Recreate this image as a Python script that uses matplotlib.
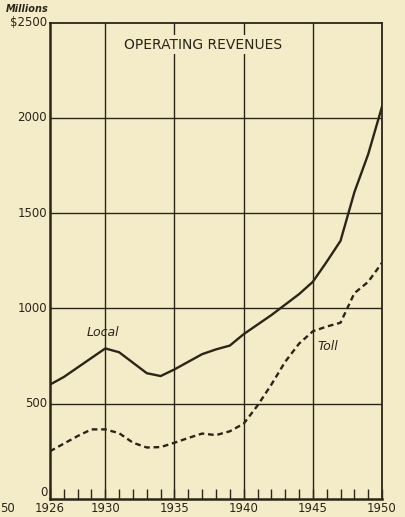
import matplotlib
matplotlib.use("Agg")
import matplotlib.pyplot as plt
from matplotlib.ticker import MultipleLocator

years = list(range(1926, 1951))
local = [600, 640, 690, 740, 790, 770, 715, 660, 645, 680, 720, 760, 785, 805,
         865, 915, 965, 1020, 1075, 1140, 1245, 1355, 1610, 1810, 2060]
toll = [250, 290, 330, 365, 365, 345, 295, 270, 272, 295, 320, 343, 335, 355,
        395, 490, 600, 720, 815, 880, 905, 925, 1080, 1140, 1240]
xticks = [1926, 1930, 1935, 1940, 1945, 1950]
yticks = [0, 500, 1000, 1500, 2000, 2500]
ylabels = ["0", "500", "1000", "1500", "2000", "$2500"]

bg = "#f4ecc9"
ink = "#2b2518"

fig = plt.figure(figsize=(4.06, 5.17), dpi=100, facecolor=bg)
ax = fig.add_axes([0.123, 0.035, 0.818, 0.921], facecolor=bg)

for y in [500, 1000, 1500, 2000]:
    ax.axhline(y, color=ink, lw=1.0, zorder=1)
for x in [1930, 1935, 1940, 1945]:
    ax.axvline(x, color=ink, lw=1.0, zorder=1)

ax.plot(years, local, color=ink, lw=1.7, zorder=3)
ax.plot(years, toll, color=ink, lw=1.7, ls=(0, (2.4, 1.6)), zorder=3)

ax.set_xlim(1926, 1950)
ax.set_ylim(0, 2500)
ax.set_xticks(xticks)
ax.set_xticklabels([str(v) for v in xticks])
ax.xaxis.set_minor_locator(MultipleLocator(1))
ax.tick_params(axis="x", which="both", direction="in", length=7.5, width=1.0,
               color=ink, labelcolor=ink, labelsize=8.5, pad=2)
ax.set_yticks(yticks)
ax.set_yticklabels(ylabels)
ax.tick_params(axis="y", length=0, labelcolor=ink, labelsize=8.5, pad=2)
ylabs = ax.get_yticklabels()
for lab in ylabs:
    lab.set_verticalalignment("center")
ylabs[0].set_verticalalignment("bottom")

for side in ["left", "bottom"]:
    ax.spines[side].set_linewidth(1.8)
    ax.spines[side].set_color(ink)
for side in ["top", "right"]:
    ax.spines[side].set_linewidth(1.3)
    ax.spines[side].set_color(ink)

ax.text(1937.1, 2385, "OPERATING REVENUES", ha="center", va="center",
        fontsize=10, color=ink, zorder=2,
        bbox=dict(facecolor=bg, edgecolor="none", pad=2))
ax.text(1929.8, 875, "Local", ha="center", va="center", fontsize=9,
        style="italic", color=ink, zorder=2)
ax.text(1946.1, 800, "Toll", ha="center", va="center", fontsize=9,
        style="italic", color=ink, zorder=2,
        bbox=dict(facecolor=bg, edgecolor="none", pad=1.5))

fig.text(0.015, 0.993, "Millions", ha="left", va="top", fontsize=7,
         style="italic", weight="bold", color=ink)
fig.text(0.0, 0.017, "50", ha="left", va="center", fontsize=8.5, color=ink)

fig.savefig("out.png", dpi=100, facecolor=bg)
